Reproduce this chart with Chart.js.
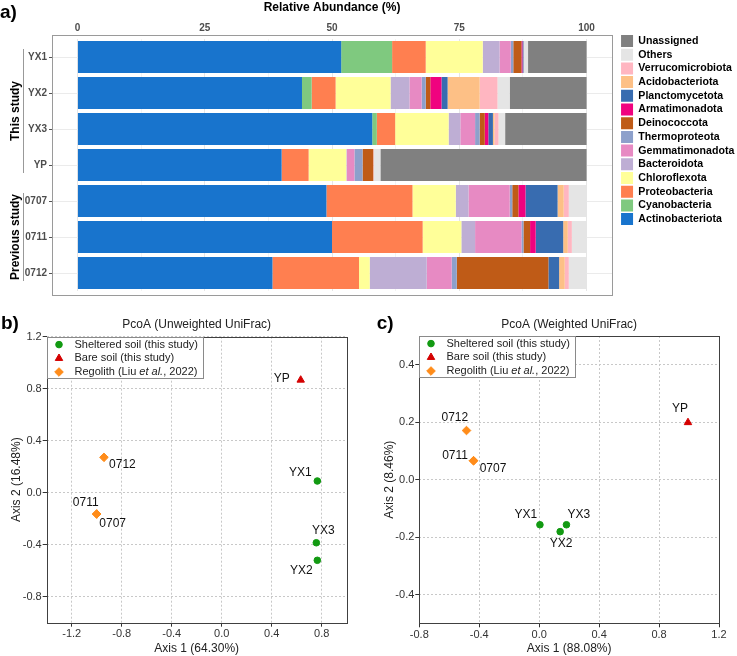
<!DOCTYPE html>
<html>
<head>
<meta charset="utf-8">
<script src="https://cdn.jsdelivr.net/npm/chart.js@4.4.1/dist/chart.umd.min.js"></script>
<style>
  html, body { margin: 0; padding: 0; background: #fff; }
  #wrap { position: relative; width: 737px; height: 656px; }
  canvas { position: absolute; display: block; }
</style>
</head>
<body>
<div id="wrap">
  <canvas id="chartA" width="737" height="300" style="left:0;top:0"></canvas>
  <canvas id="chartB" width="368" height="356" style="left:0;top:300px"></canvas>
  <canvas id="chartC" width="369" height="356" style="left:368px;top:300px"></canvas>
</div>
<script>
const FONT = '"Liberation Sans", Arial, Helvetica, sans-serif';

// ---- panel a: relative abundance (%) per phylum, in sample order ----
const samples = ['YX1', 'YX2', 'YX3', 'YP', '0707', '0711', '0712'];
const phyla = ['Actinobacteriota', 'Cyanobacteria', 'Proteobacteria', 'Chloroflexota', 'Bacteroidota',
  'Gemmatimonadota', 'Thermoproteota', 'Deinococcota', 'Armatimonadota', 'Planctomycetota',
  'Acidobacteriota', 'Verrucomicrobiota', 'Others', 'Unassigned'];
const actino     = [51.8, 44.1, 57.9, 40.1, 48.9, 50.0, 38.3];
const cyano      = [10.0, 1.9, 0.9, 0, 0, 0, 0];
const proteo     = [6.6, 4.7, 3.6, 5.3, 16.9, 17.8, 17.0];
const chloro     = [11.2, 10.8, 10.5, 7.4, 8.5, 7.6, 2.1];
const bactero    = [3.3, 3.7, 2.3, 0.1, 2.5, 2.7, 11.2];
const gemma      = [2.2, 2.4, 2.9, 1.5, 8.1, 9.1, 4.9];
const thermo     = [0.5, 0.8, 0.9, 1.6, 0.5, 0.4, 1.0];
const deino      = [1.6, 0.9, 1.0, 2.1, 1.2, 1.3, 18.0];
const armat      = [0.2, 2.2, 0.7, 0, 1.4, 1.1, 0];
const plancto    = [0.2, 1.2, 0.9, 0, 6.3, 5.4, 2.1];
const acido      = [0, 6.3, 0.3, 0, 1.2, 0.9, 1.1];
const verruco    = [0.1, 3.5, 0.8, 0.1, 1.0, 0.8, 0.8];
const others     = [0.8, 2.4, 1.3, 1.3, 3.5, 2.9, 3.5];
const unassigned = [11.5, 15.1, 16.0, 40.5, 0, 0, 0];
const abundTicks = [0, 25, 50, 75, 100];
const studyGroups = [
  { label: 'This study', from: 'YX1', to: 'YP' },
  { label: 'Previous study', from: '0707', to: '0712' }
];

// ---- panels b, c: PCoA coordinates, in sample order ----
const sampleGroup = [0, 0, 0, 1, 2, 2, 2];
const groupNames = ['Sheltered soil (this study)', 'Bare soil (this study)', 'Regolith (Liu et al., 2022)'];
const unwAxis1 = [0.765, 0.765, 0.757, 0.632, -1.0, -1.0, -0.942];
const unwAxis2 = [0.09, -0.52, -0.385, 0.867, -0.164, -0.164, 0.272];
const wAxis1 = [0.005, 0.14, 0.182, 0.993, -0.438, -0.438, -0.485];
const wAxis2 = [-0.157, -0.181, -0.157, 0.199, 0.066, 0.066, 0.171];
const unwXTicks = [-1.2, -0.8, -0.4, 0, 0.4, 0.8];
const unwYTicks = [-0.8, -0.4, 0, 0.4, 0.8, 1.2];
const wXTicks = [-0.8, -0.4, 0, 0.4, 0.8, 1.2];
const wYTicks = [-0.4, -0.2, 0, 0.2, 0.4];

// styles
const phylumColors = ['#1874CD', '#7FC97F', '#FF7F50', '#FFFF99', '#BEAED4', '#E78AC3', '#8DA0CB',
  '#BF5B17', '#F0027F', '#386CB0', '#FDC086', '#FFB6C1', '#E5E5E5', '#808080'];
const groupColors = ['#129a12', '#d40000', '#ff8c1a'];
const groupShapes = ['circle', 'triangle', 'rectRot'];
const groupRadius = [3.3, 4.3, 4.3];
// label offsets (px) from each point
const unwLabelPos = { YX1: [-17, -8.5], YX2: [-16, 10], YX3: [7, -12.5], YP: [-19, -1],
  '0707': [16, 10], '0711': [-11, -11.5], '0712': [18.5, 7] };
const wLabelPos = { YX1: [-14, -10.5], YX2: [1, 12], YX3: [12.5, -10.5], YP: [-8, -14],
  '0707': [19.5, 8.3], '0711': [-18.5, -5], '0712': [-11.7, -13.3] };

const abundance = [actino, cyano, proteo, chloro, bactero, gemma, thermo, deino, armat, plancto,
  acido, verruco, others, unassigned];

// ---- small plugins ----
const panelTag = {
  id: 'panelTag',
  afterDraw(chart, args, o) {
    const ctx = chart.ctx;
    ctx.save();
    ctx.font = 'bold 19px ' + FONT;
    ctx.fillStyle = '#000';
    ctx.textBaseline = 'alphabetic';
    ctx.fillText(o.text, o.x, o.y);
    ctx.restore();
  }
};

const frame = {
  id: 'frame',
  afterDatasetsDraw(chart, args, o) {
    const { ctx, chartArea: a } = chart;
    ctx.save();
    ctx.strokeStyle = o.color;
    ctx.lineWidth = o.width;
    ctx.strokeRect(Math.round(a.left) + 0.5, Math.round(a.top - o.padY) + 0.5,
      Math.round(a.right - a.left), Math.round(a.bottom - a.top + 2 * o.padY));
    ctx.restore();
  }
};

const groupBrackets = {
  id: 'groupBrackets',
  afterDraw(chart) {
    const ctx = chart.ctx, y = chart.scales.y;
    ctx.save();
    studyGroups.forEach(g => {
      const y0 = y.getPixelForValue(samples.indexOf(g.from)) - 8;
      const y1 = y.getPixelForValue(samples.indexOf(g.to)) + 8;
      ctx.strokeStyle = '#999';
      ctx.lineWidth = 1;
      ctx.beginPath();
      ctx.moveTo(23.5, y0);
      ctx.lineTo(23.5, y1);
      ctx.stroke();
      ctx.save();
      ctx.translate(16, (y0 + y1) / 2);
      ctx.rotate(-Math.PI / 2);
      ctx.font = 'bold 12px ' + FONT;
      ctx.fillStyle = '#000';
      ctx.textAlign = 'center';
      ctx.textBaseline = 'middle';
      ctx.fillText(g.label, 0, 0);
      ctx.restore();
    });
    ctx.restore();
  }
};

// move the built-in legend next to the panel frame
const legendNudge = {
  id: 'legendNudge',
  afterLayout(chart, args, o) {
    const lg = chart.legend;
    if (!lg) return;
    const dx = chart.chartArea.right + o.gap - lg.left;
    lg.left += dx;
    lg.right += dx;
    lg.top = chart.chartArea.top + o.dy;
  }
};

const pointLabels = {
  id: 'pointLabels',
  afterDatasetsDraw(chart, args, o) {
    const ctx = chart.ctx;
    ctx.save();
    ctx.font = '12px ' + FONT;
    ctx.fillStyle = '#111';
    ctx.textAlign = 'center';
    ctx.textBaseline = 'middle';
    chart.data.datasets.forEach((ds, k) => {
      chart.getDatasetMeta(k).data.forEach((el, i) => {
        const name = ds.data[i].name;
        const off = o.pos[name] || [0, -10];
        ctx.fillText(name, el.x + off[0], el.y + off[1]);
      });
    });
    ctx.restore();
  }
};

const splitItalic = s => s.split(/(et al\.)/).filter(Boolean).map(t => ({ t, it: t === 'et al.' }));

const pcoaLegend = {
  id: 'pcoaLegend',
  afterDatasetsDraw(chart) {
    const { ctx, chartArea: a } = chart;
    const rowH = 13.7, left = Math.round(a.left), top = Math.round(a.top);
    const reg = '11px ' + FONT, ital = 'italic 11px ' + FONT;
    ctx.save();
    const parts = chart.data.datasets.map(ds => splitItalic(ds.label));
    const widths = parts.map(ps => ps.reduce((w, p) => {
      ctx.font = p.it ? ital : reg;
      return w + ctx.measureText(p.t).width;
    }, 0));
    const w = Math.round(27.5 + Math.max(...widths) + 5);
    const h = Math.round(rowH * 3);
    ctx.fillStyle = '#fff';
    ctx.fillRect(left, top, w, h);
    ctx.strokeStyle = '#8a8a8a';
    ctx.lineWidth = 1;
    ctx.strokeRect(left + 0.5, top + 0.5, w, h);
    chart.data.datasets.forEach((ds, k) => {
      const cy = top + 7.6 + k * rowH;
      ctx.fillStyle = ds.backgroundColor;
      ctx.strokeStyle = ds.borderColor;
      ctx.lineWidth = 1;
      Chart.helpers.drawPoint(ctx, { pointStyle: ds.pointStyle, radius: ds.pointRadius, rotation: 0, borderWidth: 1 }, left + 12, cy);
      let x = left + 27.5;
      ctx.fillStyle = '#222';
      ctx.textAlign = 'left';
      ctx.textBaseline = 'middle';
      parts[k].forEach(p => {
        ctx.font = p.it ? ital : reg;
        ctx.fillText(p.t, x, cy);
        x += ctx.measureText(p.t).width;
      });
    });
    ctx.restore();
  }
};

// ---- panel a ----
const minorStep = 12.5;
new Chart(document.getElementById('chartA'), {
  type: 'bar',
  data: {
    labels: samples,
    datasets: phyla.map((p, k) => ({
      label: p,
      data: abundance[k],
      backgroundColor: phylumColors[k],
      borderWidth: 0,
      barPercentage: 32 / 36,
      categoryPercentage: 1
    }))
  },
  options: {
    indexAxis: 'y',
    responsive: false,
    animation: false,
    layout: { padding: { top: 0, right: 0, bottom: 9, left: 0 } },
    scales: {
      x: {
        type: 'linear',
        position: 'top',
        stacked: true,
        min: -5,
        max: 105,
        afterBuildTicks: s => {
          const t = [];
          for (let v = abundTicks[0]; v <= abundTicks[abundTicks.length - 1]; v += minorStep) t.push({ value: v });
          s.ticks = t;
        },
        afterFit: s => { s.height = 39; },
        grid: {
          color: c => (abundTicks.includes(c.tick.value) ? '#e6e6e6' : '#f3f3f3'),
          drawTicks: false
        },
        border: { display: false },
        ticks: {
          autoSkip: false,
          maxRotation: 0,
          padding: 5,
          color: '#4d4d4d',
          font: { family: FONT, size: 10, weight: 'bold' },
          callback: v => (abundTicks.includes(v) ? v : '')
        },
        title: {
          display: true,
          text: 'Relative Abundance (%)',
          color: '#000',
          font: { family: FONT, size: 12, weight: 'bold' },
          padding: 0
        }
      },
      y: {
        stacked: true,
        afterFit: s => { s.width = 52; },
        grid: { offset: false, color: '#ebebeb', tickColor: '#555', tickLength: 3 },
        border: { display: false },
        ticks: { padding: 2, color: '#4d4d4d', font: { family: FONT, size: 10, weight: 'bold' } }
      }
    },
    plugins: {
      legend: {
        position: 'right',
        align: 'start',
        reverse: true,
        labels: {
          boxWidth: 12,
          boxHeight: 12,
          padding: 1.7,
          color: '#000',
          font: { family: FONT, size: 10.6, weight: 'bold' }
        }
      },
      tooltip: { enabled: false },
      legendNudge: { gap: 7.3, dy: -5.7 },
      frame: { color: '#9a9a9a', width: 1, padY: 4 },
      panelTag: { text: 'a)', x: 0, y: 18 }
    }
  },
  plugins: [frame, groupBrackets, panelTag, legendNudge]
});

// ---- panels b, c ----
function pcoaChart(id, ax1, ax2, o) {
  const datasets = groupNames.map((g, k) => ({
    label: g,
    data: samples.map((s, i) => ({ x: ax1[i], y: ax2[i], name: s })).filter((d, i) => sampleGroup[i] === k),
    pointStyle: groupShapes[k],
    pointRadius: groupRadius[k],
    backgroundColor: groupColors[k],
    borderColor: groupColors[k],
    borderWidth: 1
  }));
  const tickFont = { family: FONT, size: 11 };
  const axis = (ticks, range) => ({
    type: 'linear',
    min: range[0],
    max: range[1],
    afterBuildTicks: s => { s.ticks = ticks.map(v => ({ value: v })); },
    grid: { color: '#c8c8c8', tickColor: '#333', tickLength: 4, tickBorderDash: [] },
    border: { display: false, dash: [2, 2] },
    ticks: { autoSkip: false, maxRotation: 0, color: '#333', font: tickFont, callback: v => v.toFixed(1) }
  });
  const x = axis(o.xTicks, o.xRange);
  x.afterFit = s => { s.height = o.xAxisH; };
  x.ticks.padding = 1;
  x.title = { display: true, text: o.xTitle, color: '#222', font: { family: FONT, size: 12 }, padding: { top: 0, bottom: 0 } };
  const y = axis(o.yTicks, o.yRange);
  y.afterFit = s => { s.width = o.yAxisW; };
  y.ticks.padding = 1;
  y.title = { display: true, text: o.yTitle, color: '#222', font: { family: FONT, size: 12 }, padding: { top: o.yTitlePad, bottom: 0 } };

  return new Chart(document.getElementById(id), {
    type: 'scatter',
    data: { datasets },
    options: {
      responsive: false,
      animation: false,
      layout: { padding: { top: 0, right: o.padRight, bottom: 0, left: 0 } },
      scales: { x, y },
      plugins: {
        legend: { display: false },
        tooltip: { enabled: false },
        title: {
          display: true,
          text: o.title,
          fullSize: false,
          color: '#222',
          font: { family: FONT, size: 12, weight: 'normal' },
          padding: { top: 17, bottom: o.titleBottom }
        },
        frame: { color: '#404040', width: 1, padY: 0 },
        pointLabels: { pos: o.labelPos },
        panelTag: o.tag
      }
    },
    plugins: [frame, pointLabels, pcoaLegend, panelTag]
  });
}

pcoaChart('chartB', unwAxis1, unwAxis2, {
  xTicks: unwXTicks, yTicks: unwYTicks, xRange: [-1.4, 1.0], yRange: [-1.0, 1.2],
  xTitle: 'Axis 1 (64.30%)', yTitle: 'Axis 2 (16.48%)', title: 'PcoA (Unweighted UniFrac)',
  xAxisH: 33.3, yAxisW: 46.7, yTitlePad: 9.3, padRight: 21.3, titleBottom: 5.3,
  labelPos: unwLabelPos, tag: { text: 'b)', x: 1, y: 29 }
});

pcoaChart('chartC', wAxis1, wAxis2, {
  xTicks: wXTicks, yTicks: wYTicks, xRange: [-0.8, 1.2], yRange: [-0.5, 0.5],
  xTitle: 'Axis 1 (88.08%)', yTitle: 'Axis 2 (8.46%)', title: 'PcoA (Weighted UniFrac)',
  xAxisH: 32.7, yAxisW: 51.3, yTitlePad: 14.8, padRight: 18, titleBottom: 4.6,
  labelPos: wLabelPos, tag: { text: 'c)', x: 8.7, y: 28.5 }
});
</script>
</body>
</html>
